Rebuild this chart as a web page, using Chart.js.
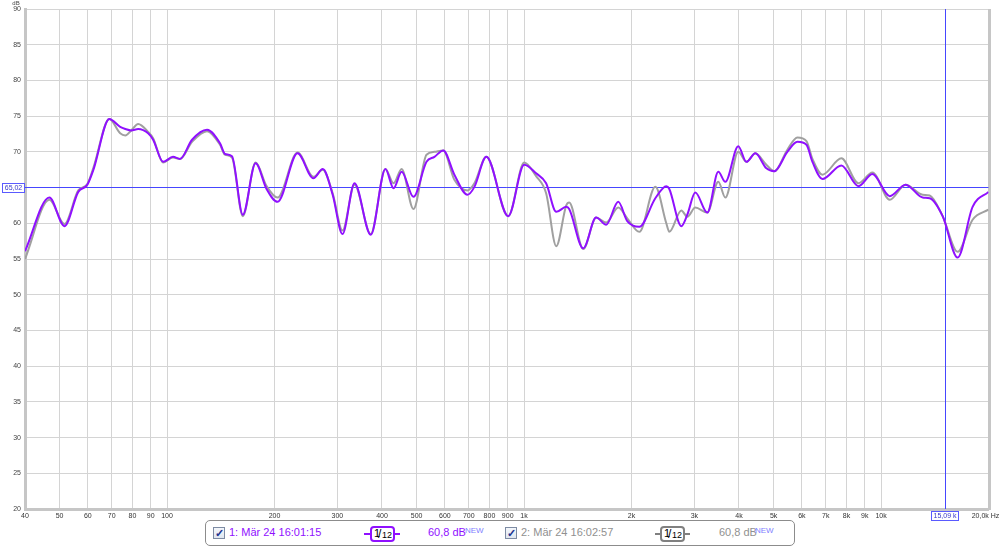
<!DOCTYPE html>
<html>
<head>
<meta charset="utf-8">
<title>Frequency response</title>
<script src="https://cdn.jsdelivr.net/npm/chart.js@4/dist/chart.umd.min.js"></script>
<style>
  html, body { margin: 0; padding: 0; background: #fff; }
  #wrap { position: relative; width: 1000px; height: 548px; overflow: hidden;
          font-family: "Liberation Sans", Arial, sans-serif; }
  #chart { position: absolute; left: 0; top: 0; }
  .legend { position: absolute; left: 205px; top: 520px; width: 590px; height: 26px;
            box-sizing: border-box; border: 1px solid #8c8c8c; border-radius: 5px; background: #fff; }
  .legend > * { position: absolute; }
  .cb { top: 6px; width: 12px; height: 12px; box-sizing: border-box; border: 1px solid #7d8ba3;
        background: linear-gradient(#f4f7fb, #dfe6f0); color: #22338f; font-size: 11px;
        line-height: 10px; text-align: center; font-weight: bold; }
  .name, .db { top: 5px; font-size: 11px; line-height: 13px; white-space: nowrap; }
  .new { top: 5px; font-size: 8px; line-height: 9px; color: #8080ff; }
  .tail { top: 12px; height: 2px; }
  .smooth { top: 5px; width: 25px; height: 16px; box-sizing: border-box; border: 2px solid;
            border-radius: 4px; background: #fff; color: #000; }
  .smooth .one { position: absolute; left: 2px; top: -1px; font-size: 11px; }
  .smooth .sl  { position: absolute; left: 6px; top: -1px; font-size: 12px; }
  .smooth .tw  { position: absolute; left: 10px; top: 2px; font-size: 9px; }
</style>
</head>
<body>
<div id="wrap">
  <canvas id="chart" width="1000" height="548"></canvas>
  <div class="legend">
    <span class="cb" style="left:7px">✓</span>
    <span class="name" style="left:23px;color:#9010ff">1: Mär 24 16:01:15</span>
    <span class="tail" style="left:158px;width:6px;background:#9010ff"></span>
    <span class="smooth" style="left:164px;border-color:#9010ff"><span class="one">1</span><span class="sl">/</span><span class="tw">12</span></span>
    <span class="tail" style="left:189px;width:5px;background:#9010ff"></span>
    <span class="db" style="left:222px;color:#9010ff">60,8 dB</span>
    <span class="new" style="left:259px">NEW</span>

    <span class="cb" style="left:299px">✓</span>
    <span class="name" style="left:315px;color:#909090">2: Mär 24 16:02:57</span>
    <span class="tail" style="left:449px;width:5px;background:#808080"></span>
    <span class="smooth" style="left:454px;border-color:#808080"><span class="one">1</span><span class="sl">/</span><span class="tw">12</span></span>
    <span class="tail" style="left:479px;width:5px;background:#808080"></span>
    <span class="db" style="left:513px;color:#909090">60,8 dB</span>
    <span class="new" style="left:549px">NEW</span>
  </div>
</div>
<script>
"use strict";

// ── Data ──
const freqs = [
  40, 46.8, 51.6, 56.4, 59.8, 62.2, 68.9, 73.9, 76.4, 79.4, 83.0, 88.5, 91.4, 97.5,
  103.9, 108.7, 117.5, 129.4, 140.7, 145.3, 152, 163, 177, 190, 204, 232, 257, 273,
  291, 310, 335, 372, 409, 431, 454, 490, 533, 561, 594, 638, 694, 726, 784, 903,
  1001, 1081, 1153, 1231, 1313, 1338, 1465, 1592, 1699, 1836, 1946, 2103, 2332, 2503,
  2552, 2758, 2866, 3018, 3261, 3501, 3663, 3982, 4195, 4445, 4773, 5026, 5465, 5830,
  6181, 6425, 6852, 7743, 8641, 9462, 10575, 11720, 13080, 13685, 14880, 16390, 18050, 20000
];
const run1 = [
  56.1, 63.6, 59.6, 64.4, 65.4, 67.5, 74.6, 73.5, 73.2, 73.0, 73.2, 72.6, 71.7, 68.6,
  69.3, 69.0, 71.7, 73.1, 71.2, 69.7, 69.4, 61.2, 68.4, 64.8, 63.0, 69.8, 66.3, 67.6,
  64.0, 58.5, 65.6, 58.4, 67.6, 64.9, 67.2, 63.7, 68.6, 69.3, 70.2, 66.8, 64.0, 65.1, 69.3, 61.0,
  68.2, 67.0, 65.6, 61.6, 62.3, 62.0, 56.5, 60.8, 59.8, 63.0, 60.3, 59.5, 63.5, 65.2,
  64.8, 59.6, 61.2, 64.3, 61.5, 67.2, 65.8, 70.8, 68.6, 69.8, 67.7, 67.3, 70.0, 71.4,
  71.0, 68.6, 66.2, 68.1, 65.2, 66.9, 63.8, 65.4, 63.6, 63.5, 61.0, 55.2, 62.3, 64.4
];
const run2 = [
  55.0, 63.3, 59.9, 64.6, 65.5, 67.8, 74.6, 72.6, 72.3, 73.0, 73.9, 72.8, 71.9, 68.5,
  69.2, 69.0, 71.4, 72.9, 71.0, 69.6, 69.2, 61.0, 68.5, 65.2, 63.6, 69.9, 66.5, 67.5,
  64.2, 59.0, 65.4, 58.5, 67.6, 65.6, 67.6, 62.0, 69.6, 70.0, 70.2, 66.1, 64.6, 65.6, 69.3, 61.0,
  68.5, 66.6, 64.2, 56.8, 62.5, 62.9, 56.4, 60.8, 60.1, 62.2, 60.7, 58.8, 65.1, 60.0,
  58.8, 61.8, 60.9, 62.2, 61.5, 65.8, 63.6, 70.0, 68.6, 69.8, 68.2, 67.3, 70.3, 72.0,
  71.5, 69.0, 66.8, 69.1, 65.6, 67.1, 63.3, 65.4, 64.0, 63.9, 61.0, 56.0, 60.5, 61.9
];

// ── Axes ──
const xTickVals   = [40, 50, 60, 70, 80, 90, 100, 200, 300, 400, 500, 600, 700, 800, 900,
                     1000, 2000, 3000, 4000, 5000, 6000, 7000, 8000, 9000, 10000, 20000];
const xTickLabels = ["40", "50", "60", "70", "80", "90", "100", "200", "300", "400", "500", "600",
                     "700", "800", "900", "1k", "2k", "3k", "4k", "5k", "6k", "7k", "8k", "9k",
                     "10k", "20,0k Hz"];
const yTickVals   = [20, 25, 30, 35, 40, 45, 50, 55, 60, 65, 70, 75, 80, 85, 90];

// ── Cursor ──
const cursorFreq  = 15090;
const cursorLevel = 65.02;

const FONT = "'Liberation Sans', Arial, sans-serif";
const CURSOR = "#4646ff";

// ── Extras: borders, cursor, odd labels ──
const extras = {
  id: "extras",
  beforeDatasetsDraw(chart) {
    const { ctx, chartArea: a, scales: { x, y } } = chart;
    ctx.save();
    ctx.strokeStyle = "#c6c6c6";
    ctx.lineWidth = 3;
    ctx.beginPath();
    ctx.moveTo(a.right + 1, a.top);
    ctx.lineTo(a.right + 1, a.bottom + 1);
    ctx.stroke();

    const cx = Math.round(x.getPixelForValue(cursorFreq)) + 0.5;
    const cy = Math.round(y.getPixelForValue(cursorLevel)) + 0.5;
    ctx.lineWidth = 1;
    ctx.strokeStyle = CURSOR;
    ctx.beginPath();
    ctx.moveTo(a.left, cy);
    ctx.lineTo(a.right, cy);
    ctx.moveTo(cx, a.top);
    ctx.lineTo(cx, a.bottom);
    ctx.stroke();
    ctx.restore();
  },
  afterDraw(chart) {
    const { ctx, scales: { x, y } } = chart;
    const cx = Math.round(x.getPixelForValue(cursorFreq)) + 0.5;
    const cy = Math.round(y.getPixelForValue(cursorLevel)) + 0.5;
    ctx.save();

    // cursor value boxes
    const box = (text, midX, midY, w) => {
      ctx.fillStyle = "#fff";
      ctx.fillRect(midX - w / 2, midY - 4.5, w, 9);
      ctx.strokeStyle = "#5a5aff";
      ctx.lineWidth = 1;
      ctx.strokeRect(Math.round(midX - w / 2) + 0.5, Math.round(midY - 4.5) + 0.5, w, 9);
      ctx.fillStyle = "#3838c8";
      ctx.font = `7px ${FONT}`;
      ctx.textAlign = "center";
      ctx.textBaseline = "middle";
      ctx.fillText(text, midX + 0.5, midY + 1);
    };
    box("65,02", 13, cy, 22);
    box("15,09 k", cx - 1, 515.5, 27);

    // unit labels
    ctx.fillStyle = "#444";
    ctx.font = `6px ${FONT}`;
    ctx.textAlign = "center";
    ctx.textBaseline = "middle";
    ctx.fillText("dB", 16, 3.5);
    ctx.font = `7px ${FONT}`;
    ctx.fillStyle = "#333";
    ctx.fillText(xTickLabels[xTickLabels.length - 1], x.getPixelForValue(20000) - 3, 516);
    ctx.restore();
  }
};

// ── Chart ──
new Chart(document.getElementById("chart").getContext("2d"), {
  type: "line",
  data: {
    labels: freqs,
    datasets: [
      {
        label: "1: Mär 24 16:01:15",
        data: freqs.map((f, i) => ({ x: f, y: run1[i] })),
        borderColor: "#9010ff",
        borderWidth: 2,
        cubicInterpolationMode: "monotone",
        pointRadius: 0,
        fill: false,
      },
      {
        label: "2: Mär 24 16:02:57",
        data: freqs.map((f, i) => ({ x: f, y: run2[i] })),
        borderColor: "#a0a0a0",
        borderWidth: 2,
        cubicInterpolationMode: "monotone",
        pointRadius: 0,
        fill: false,
      },
    ],
  },
  options: {
    responsive: false,
    animation: false,
    layout: { padding: { top: 9, right: 11.5, left: 0, bottom: 0 } },
    plugins: { legend: { display: false }, tooltip: { enabled: false } },
    scales: {
      x: {
        type: "logarithmic",
        min: 40,
        max: 20000,
        afterBuildTicks: s => { s.ticks = xTickVals.map(v => ({ value: v })); },
        afterFit: s => { s.height = 39; s.paddingLeft = 0; s.paddingRight = 0; },
        grid: { color: "#d4d4d4", lineWidth: 1, drawTicks: false },
        border: { color: "#c6c6c6", width: 3 },
        ticks: {
          autoSkip: false,
          maxRotation: 0,
          padding: 3,
          color: "#333",
          font: { size: 7, family: FONT },
          callback: (v, i) => (i === xTickLabels.length - 1 ? "" : xTickLabels[i]),
        },
      },
      y: {
        min: 20,
        max: 90,
        afterBuildTicks: s => { s.ticks = yTickVals.map(v => ({ value: v })); },
        afterFit: s => { s.width = 25; s.paddingTop = 0; s.paddingBottom = 0; },
        grid: { color: "#d4d4d4", lineWidth: 1, drawTicks: false },
        border: { color: "#c6c6c6", width: 3 },
        ticks: {
          padding: 4,
          color: "#444",
          font: { size: 7, family: FONT },
        },
      },
    },
  },
  plugins: [extras],
});
</script>
</body>
</html>
